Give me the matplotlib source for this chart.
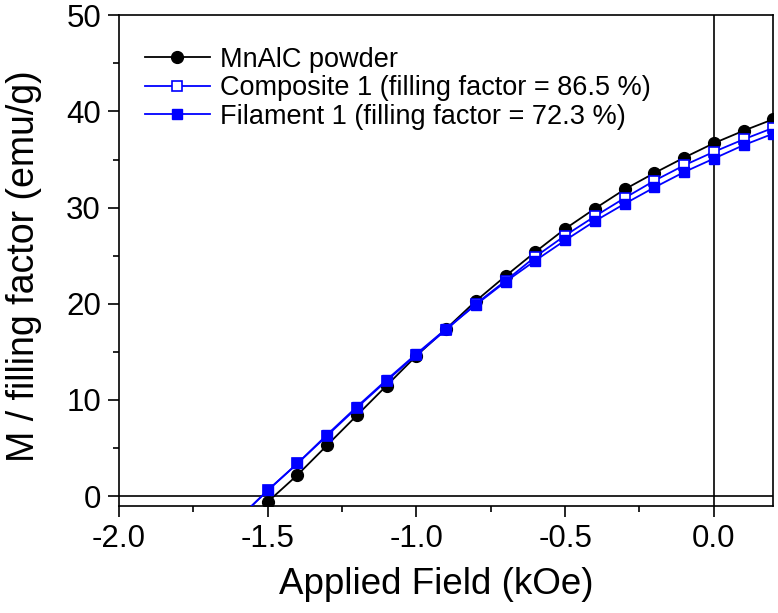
import numpy as np
import matplotlib.pyplot as plt
from matplotlib.ticker import MultipleLocator

plt.rcParams['font.family'] = ['Liberation Sans', 'DejaVu Sans']

# === Données ===
champ = [-1.6, -1.5, -1.4, -1.3, -1.2, -1.1, -1.0, -0.9, -0.8, -0.7, -0.6,
         -0.5, -0.4, -0.3, -0.2, -0.1, 0.0, 0.1, 0.2]
poudre = [-3.6, -0.6, 2.2, 5.3, 8.4, 11.5, 14.6, 17.4, 20.3, 22.9, 25.4,
          27.8, 29.9, 31.9, 33.6, 35.2, 36.7, 38.0, 39.2]
composite = [-2.4, 0.6, 3.4, 6.3, 9.2, 12.0, 14.7, 17.3, 20.0, 22.4, 24.9,
             27.1, 29.1, 31.0, 32.8, 34.4, 35.8, 37.1, 38.3]
filament = [-2.4, 0.6, 3.4, 6.4, 9.3, 12.1, 14.8, 17.4, 19.9, 22.3, 24.5,
            26.6, 28.6, 30.4, 32.1, 33.7, 35.1, 36.5, 37.7]

labels = ["MnAlC powder",
          "Composite 1 (filling factor = 86.5 %)",
          "Filament 1 (filling factor = 72.3 %)"]

fig = plt.figure(figsize=(7.78, 6.13), dpi=100)
ax = fig.add_axes([0.153, 0.175, 0.841, 0.800])

# lignes de référence x=0 et y=0
ax.axhline(0, color='black', lw=1.2, zorder=1)
ax.axvline(0, color='black', lw=1.2, zorder=1)

ax.plot(champ, poudre, '-o', color='black', lw=1.3, ms=8.5, label=labels[0], zorder=3)
ax.plot(champ, composite, '-s', color='#0000ff', mfc='white', mec='#0000ff', mew=1.2,
        lw=1.3, ms=7, label=labels[1], zorder=4)
ax.plot(champ, filament, '-s', color='#0000ff', lw=1.3, ms=7, label=labels[2], zorder=5)

ax.set_xlim(-2.0, 0.2)
ax.set_ylim(-1.0, 50)
ax.xaxis.set_major_locator(MultipleLocator(0.5))
ax.xaxis.set_minor_locator(MultipleLocator(0.25))
ax.yaxis.set_major_locator(MultipleLocator(10))
ax.yaxis.set_minor_locator(MultipleLocator(5))
ax.xaxis.set_major_formatter(plt.FuncFormatter(lambda v, p: f"{v:.1f}"))
ax.tick_params(which='major', direction='out', length=8, width=1.2, labelsize=22.5, pad=5)
ax.tick_params(which='minor', direction='out', length=4.5, width=1.2)
for s in ax.spines.values():
    s.set_linewidth(1.2)

ax.set_xlabel("Applied Field (kOe)", fontsize=26.5)
ax.xaxis.set_label_coords(0.4855, -0.125)
ax.set_ylabel("M / filling factor (emu/g)", fontsize=27)
ax.yaxis.set_label_coords(-0.118, 0.488)

ax.legend(loc='upper left', frameon=False, fontsize=19.5, handlelength=2.4,
          handletextpad=0.4, labelspacing=0.1, borderaxespad=0.3,
          bbox_to_anchor=(0.01, 0.975))

fig.savefig("out.png", dpi=100)
